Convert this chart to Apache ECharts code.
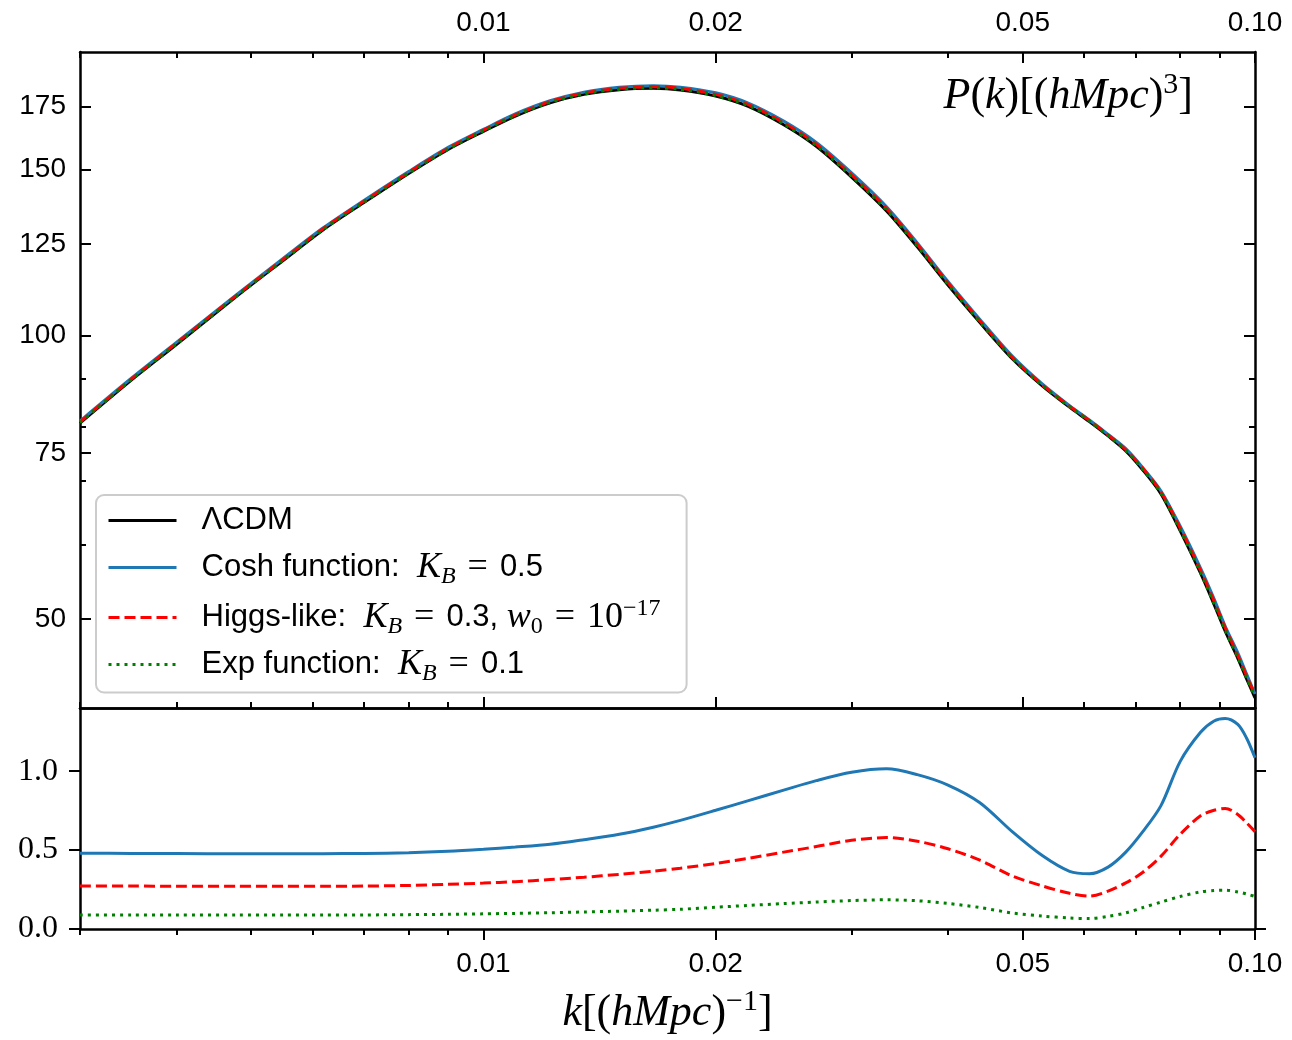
<!DOCTYPE html>
<html><head><meta charset="utf-8">
<script src="https://cdn.jsdelivr.net/npm/echarts@6/dist/echarts.min.js"></script>
<style>html,body{margin:0;padding:0;background:#fff}#c{width:1292px;height:1040px}</style>
</head><body><div id="c"></div><script>
// ---- data ----
const k = [0.0030,0.0035,0.0040,0.0048,0.0055,0.0062,0.0070,0.0080,0.0090,0.0100,0.0110,0.0122,0.0135,0.0150,0.0166,0.0180,0.0200,0.0220,0.0245,0.0270,0.0300,0.0333,0.0365,0.0400,0.0440,0.0485,0.0530,0.0575,0.0610,0.0645,0.0680,0.0715,0.0755,0.0800,0.0850,0.0885,0.0915,0.0950,0.0975,0.1000];
const pLCDM  = [80.7,89.7,97.8,110.2,120.1,129.5,138.4,148.6,157.6,164.7,171.0,176.6,180.3,182.4,183.0,182.3,179.6,175.2,167.4,158.8,147.3,135.6,124.2,113.1,103.2,94.4,88.4,83.9,81.0,78.2,75.4,72.0,67.9,62.0,55.9,51.8,48.5,45.4,43.2,41.2];
const pCosh  = [81.1,90.1,98.3,110.7,120.7,130.1,139.1,149.3,158.4,165.5,171.9,177.5,181.3,183.5,184.2,183.5,181.0,176.6,168.9,160.3,148.8,137.0,125.4,114.1,104.0,95.0,88.8,84.2,81.3,78.5,75.8,72.4,68.4,62.7,56.6,52.5,49.1,46.0,43.7,41.6];
const pHiggs = [80.9,89.9,98.1,110.5,120.4,129.9,138.8,149.0,158.0,165.2,171.5,177.2,180.9,183.0,183.7,183.0,180.3,176.0,168.2,159.6,148.1,136.4,124.9,113.7,103.6,94.7,88.6,84.1,81.2,78.4,75.6,72.3,68.2,62.4,56.3,52.2,48.9,45.7,43.5,41.5];
const pExp   = [80.8,89.8,97.9,110.3,120.2,129.6,138.5,148.7,157.7,164.9,171.2,176.8,180.5,182.6,183.2,182.5,179.8,175.5,167.7,159.1,147.6,135.9,124.4,113.3,103.3,94.5,88.5,84.0,81.1,78.3,75.5,72.1,68.0,62.1,56.0,51.9,48.6,45.5,43.3,41.3];
const rCosh  = [0.480,0.479,0.478,0.477,0.477,0.477,0.479,0.483,0.492,0.505,0.519,0.537,0.566,0.600,0.645,0.688,0.752,0.812,0.880,0.940,0.993,1.015,0.978,0.912,0.800,0.615,0.465,0.365,0.350,0.392,0.487,0.615,0.780,1.062,1.246,1.318,1.334,1.296,1.210,1.085];
const rHiggs = [0.272,0.272,0.271,0.271,0.271,0.271,0.272,0.276,0.283,0.291,0.300,0.313,0.328,0.346,0.366,0.385,0.415,0.447,0.487,0.522,0.562,0.579,0.556,0.508,0.436,0.335,0.273,0.226,0.208,0.240,0.292,0.358,0.460,0.600,0.717,0.752,0.764,0.726,0.673,0.617];
const rExp   = [0.088,0.088,0.088,0.088,0.088,0.088,0.089,0.091,0.093,0.096,0.099,0.103,0.108,0.113,0.119,0.125,0.138,0.149,0.161,0.171,0.180,0.185,0.179,0.162,0.136,0.101,0.082,0.070,0.066,0.080,0.102,0.135,0.170,0.206,0.235,0.244,0.246,0.235,0.222,0.206];
// ticks
const xMajor = [0.01,0.02,0.05,0.1];
const xMinor = [0.003,0.004,0.005,0.006,0.007,0.008,0.009,0.03,0.04,0.06,0.07,0.08,0.09];
const yTopMajor = [50,75,100,125,150,175];
const yTopMinor = [60,70,80,90];
const yBotMajor = [0,0.5,1.0];
const kRange = [0.003,0.1];
const pRange = [40.2,200];
const rRange = [0,1.4];

// ---- build ----
const L = Math.log10;
const SANS = 'Liberation Sans';
const SERIF = 'Liberation Serif';
const MAJ = 11, MIN = 6;

function axisBase(grid, pos, range, ticks, len, inside, line, label) {
  return {
    type:'value', gridIndex:grid, position:pos, min:range[0], max:range[1],
    axisLine:{show:line, onZero:false, lineStyle:{color:'#000', width:2.5}},
    axisTick:{show:true, inside:inside, length:len, customValues:ticks, lineStyle:{color:'#000', width:2}},
    axisLabel: label ? Object.assign({show:true, customValues:ticks}, label) : {show:false},
    splitLine:{show:false}, minorTick:{show:false}, axisPointer:{show:false}
  };
}
const kr = kRange.map(L), pr = pRange.map(L);
const xFmt = v => Math.pow(10, v).toFixed(2);
const yFmt = v => String(Math.round(Math.pow(10, v)));
const sansLbl = {fontFamily:SANS, fontSize:28, color:'#000'};

const mathRich = {
  i:{fontFamily:SERIF, fontStyle:'italic', fontWeight:'normal', fontSize:44, lineHeight:52, color:'#000'},
  r:{fontFamily:SERIF, fontWeight:'normal', fontSize:44, lineHeight:52, color:'#000'},
  s:{fontFamily:SERIF, fontWeight:'normal', fontSize:30, lineHeight:30, verticalAlign:'top', color:'#000'}
};

const xAxes = [
  // top panel (grid 0), ticks inward
  axisBase(0,'bottom',kr,xMajor.map(L),MAJ,true,true,null),
  axisBase(0,'bottom',kr,xMinor.map(L),MIN,true,false,null),
  axisBase(0,'top',kr,xMajor.map(L),MAJ,true,true,Object.assign({formatter:xFmt, margin:15}, sansLbl)),
  axisBase(0,'top',kr,xMinor.map(L),MIN,true,false,null),
  // bottom panel (grid 1), ticks outward
  Object.assign(axisBase(1,'bottom',kr,xMajor.map(L),MAJ,false,true,Object.assign({formatter:xFmt, margin:21}, sansLbl)), {
    name:'{i|k}{r|[(}{i|hMpc}{r|)}{s|−1}{r|]}', nameLocation:'middle', nameGap:58,
    nameTextStyle:{rich:mathRich}
  }),
  axisBase(1,'bottom',kr,xMinor.map(L),MIN,false,false,null),
  axisBase(1,'top',kr,xMajor.map(L),MAJ,false,true,null),
  axisBase(1,'top',kr,xMinor.map(L),MIN,false,false,null)
];
const yAxes = [
  axisBase(0,'left',pr,yTopMajor.map(L),MAJ,true,true,Object.assign({formatter:yFmt, margin:14}, sansLbl)),
  axisBase(0,'left',pr,yTopMinor.map(L),MIN,true,false,null),
  axisBase(0,'right',pr,yTopMajor.map(L),MAJ,true,true,null),
  axisBase(0,'right',pr,yTopMinor.map(L),MIN,true,false,null),
  axisBase(1,'left',rRange,yBotMajor,MAJ,false,true,{formatter:v=>v.toFixed(1), margin:22, fontFamily:SERIF, fontSize:32, color:'#000'}),
  axisBase(1,'right',rRange,yBotMajor,MAJ,false,true,null)
];

const pts = (xs, ys, fy) => xs.map((x, i) => [L(x), fy(ys[i])]);
const styles = {
  lcdm:{color:'#000000', type:'solid'},
  cosh:{color:'#1f77b4', type:'solid'},
  higgs:{color:'#ff0000', type:[11,5]},
  exp:{color:'#008000', type:[3,5]}
};
function line(name, data, grid) {
  const s = styles[name];
  return {
    name, type:'line', xAxisIndex: grid ? 4 : 0, yAxisIndex: grid ? 4 : 0,
    data, showSymbol:false, symbol:'none', smooth:0.3, clip:true,
    lineStyle:{color:s.color, width:3, type:s.type, cap:'butt'},
    itemStyle:{color:s.color}, emphasis:{disabled:true}
  };
}
const series = [
  line('lcdm', pts(k, pLCDM, L), 0),
  line('cosh', pts(k, pCosh, L), 0),
  line('higgs', pts(k, pHiggs, L), 0),
  line('exp', pts(k, pExp, L), 0),
  line('cosh', pts(k, rCosh, v=>v), 1),
  line('higgs', pts(k, rHiggs, v=>v), 1),
  line('exp', pts(k, rExp, v=>v), 1)
];

const EQ = '\u2004=\u2004';
const legendText = {
  lcdm: '{g| }{t|ΛCDM}{b| }',
  cosh: '{g| }{t|Cosh function:  }{m|K}{b|B}{e|' + EQ + '}{t|0.5}',
  higgs:'{g| }{t|Higgs-like:  }{m|K}{b|B}{e|' + EQ + '}{t|0.3, }{m|w}{c|0}{e|' + EQ + '10}{p|−17}',
  exp:  '{g| }{t|Exp function:  }{m|K}{b|B}{e|' + EQ + '}{t|0.1}'
};

const chart = echarts.init(document.getElementById('c'), null, {renderer:'canvas'});
chart.setOption({
  animation:false,
  backgroundColor:'#ffffff',
  title:{
    text:'{i|P}{r|(}{i|k}{r|)[(}{i|hMpc}{r|)}{s|3}{r|]}',
    right:99, top:70, padding:0,
    textStyle:{fontWeight:'normal', rich:mathRich}
  },
  grid:[
    {left:80, top:52, width:1175, height:656},
    {left:80, top:708, width:1175, height:221}
  ],
  xAxis:xAxes,
  yAxis:yAxes,
  legend:{
    orient:'vertical', left:96, top:495,
    data:['lcdm','cosh','higgs','exp'],
    itemWidth:68, itemHeight:14, itemGap:8,
    padding:[10,26,7,11],
    backgroundColor:'rgba(255,255,255,0.8)', borderColor:'#cccccc', borderWidth:2, borderRadius:8,
    formatter:n => legendText[n],
    selectedMode:false,
    itemStyle:{opacity:0, borderWidth:0},
    lineStyle:{width:3},
    textStyle:{color:'#000', rich:{
      g:{width:20, fontSize:31, lineHeight:42},
      t:{fontFamily:SANS, fontSize:31, lineHeight:42, color:'#000'},
      m:{fontFamily:SERIF, fontStyle:'italic', fontSize:36, lineHeight:42, color:'#000'},
      e:{fontFamily:SERIF, fontSize:36, lineHeight:42, color:'#000'},
      b:{fontFamily:SERIF, fontStyle:'italic', fontSize:24, lineHeight:24, verticalAlign:'bottom', color:'#000'},
      c:{fontFamily:SERIF, fontSize:24, lineHeight:24, verticalAlign:'bottom', color:'#000'},
      p:{fontFamily:SERIF, fontSize:24, lineHeight:24, verticalAlign:'top', color:'#000'}
    }}
  },
  series
});
</script></body></html>
